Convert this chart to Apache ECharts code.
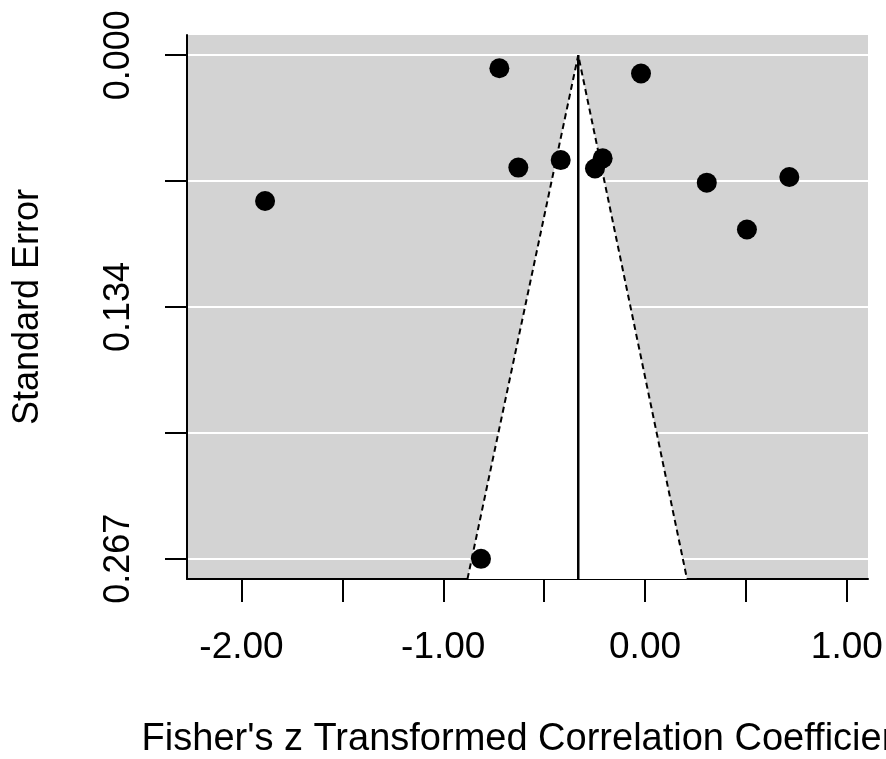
<!DOCTYPE html>
<html>
<head>
<meta charset="utf-8">
<script src="https://cdn.jsdelivr.net/npm/echarts@6/dist/echarts.min.js"></script>
<style>
  html, body { margin: 0; padding: 0; background: #fff; }
  #chart { width: 886px; height: 759px; }
</style>
</head>
<body>
<div id="chart"></div>
<script>
// study effects (Fisher's z) and their standard errors
const zValues = [-1.883, -0.722, -0.628, -0.418, -0.248, -0.210, -0.020, 0.306, 0.505, 0.715, -0.813];
const seValues = [0.0773, 0.0069, 0.0596, 0.0556, 0.0601, 0.0547, 0.0097, 0.0676, 0.0924, 0.0646, 0.267];

// pooled estimate and funnel edges at the bottom of the plot
const pooledEstimate = -0.331;
const funnelBottomSe = 0.2777;
const funnelEdges = [-0.880, 0.208];

// axis ticks
const xTicks = [-2, -1.5, -1, -0.5, 0, 0.5, 1];
const xLabelTicks = [-2, -1, 0, 1];
const yTicks = [0, 0.06675, 0.1335, 0.20025, 0.267];
const yLabelTicks = [0, 0.1335, 0.267];
const yLabelText = ['0.000', '0.134', '0.267'];

const FONT = 'Liberation Sans, Arial, sans-serif';

const chart = echarts.init(document.getElementById('chart'));

const points = zValues.map((z, i) => [z, seValues[i]]);
const triangle = [
  [funnelEdges[0], funnelBottomSe],
  [pooledEstimate, 0],
  [funnelEdges[1], funnelBottomSe]
];

const option = {
  animation: false,
  backgroundColor: '#fff',
  grid: {
    left: 187, right: 18, top: 35, bottom: 180,
    containLabel: false,
    outerBoundsMode: 'none',
    show: true, backgroundColor: '#d3d3d3', borderWidth: 0
  },
  xAxis: {
    type: 'value',
    min: -2.27, max: 1.105,
    name: "Fisher's z Transformed Correlation Coefficient",
    nameLocation: 'middle',
    nameGap: 142,
    nameTextStyle: { fontFamily: FONT, fontSize: 38, color: '#000' },
    axisLine: { show: true, onZero: false, lineStyle: { color: '#000', width: 2 } },
    axisTick: { show: true, length: 23, customValues: xTicks, lineStyle: { color: '#000', width: 2 } },
    axisLabel: {
      customValues: xLabelTicks, margin: 50,
      fontFamily: FONT, fontSize: 37, color: '#000',
      formatter: v => v.toFixed(2)
    },
    splitLine: { show: false }
  },
  yAxis: {
    type: 'value',
    inverse: true,
    min: -0.0107, max: funnelBottomSe,
    name: 'Standard Error',
    nameLocation: 'middle',
    nameGap: 141,
    nameTextStyle: { fontFamily: FONT, fontSize: 36, color: '#000' },
    axisLine: { show: true, onZero: false, lineStyle: { color: '#000', width: 2 } },
    axisTick: { show: true, length: 22, customValues: yTicks, lineStyle: { color: '#000', width: 2 } },
    axisLabel: {
      customValues: yLabelTicks, margin: 50, rotate: 90,
      fontFamily: FONT, fontSize: 36, color: '#000',
      formatter: v => {
        const i = yLabelTicks.findIndex(t => Math.abs(t - v) < 1e-6);
        return i >= 0 ? yLabelText[i] : '';
      }
    },
    splitLine: { show: true, lineStyle: { color: '#fff', width: 2 } }
  },
  series: [
    {
      // white funnel region
      type: 'custom',
      data: [0],
      silent: true,
      z: 1,
      renderItem: (params, api) => ({
        type: 'polygon',
        shape: { points: triangle.map(p => api.coord(p)) },
        style: { fill: '#fff' }
      })
    },
    {
      // funnel borders
      type: 'line',
      data: triangle,
      symbol: 'none',
      silent: true,
      z: 2,
      lineStyle: { color: '#000', width: 2, type: [6, 4] }
    },
    {
      // vertical line at pooled estimate
      type: 'line',
      data: [[pooledEstimate, 0], [pooledEstimate, funnelBottomSe]],
      symbol: 'none',
      silent: true,
      z: 2,
      lineStyle: { color: '#000', width: 2.5 }
    },
    {
      type: 'scatter',
      data: points,
      symbol: 'circle',
      symbolSize: 20,
      z: 3,
      itemStyle: { color: '#000', opacity: 1 }
    }
  ]
};

chart.setOption(option);
</script>
</body>
</html>
